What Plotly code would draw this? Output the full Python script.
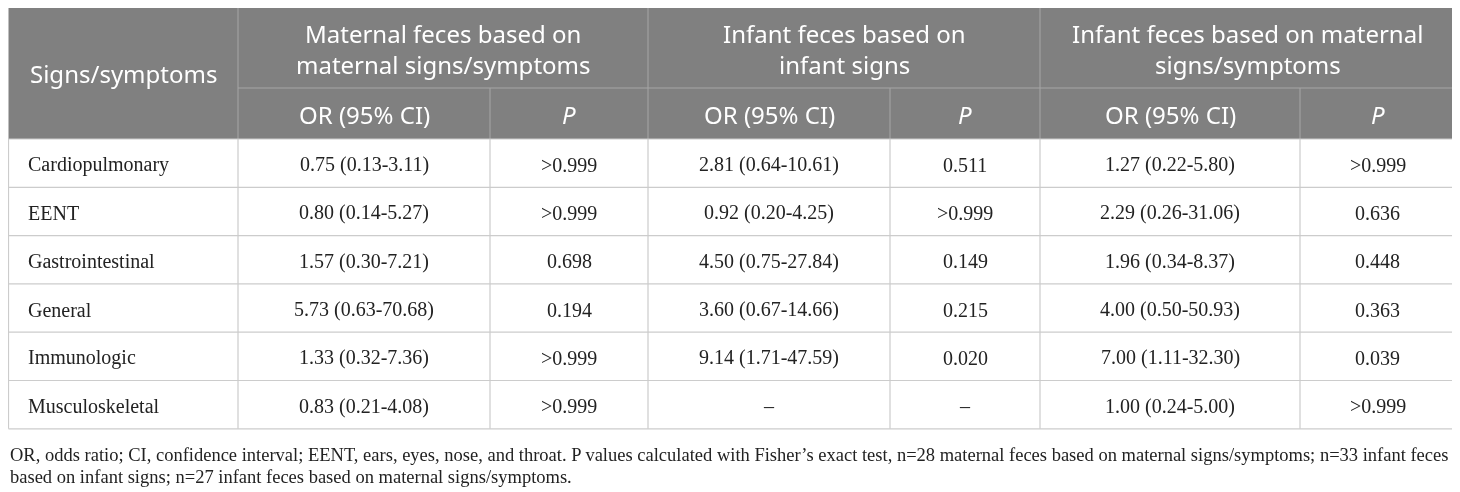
import plotly.graph_objects as go

# --- Data ---
symptoms = ["Cardiopulmonary", "EENT", "Gastrointestinal", "General", "Immunologic", "Musculoskeletal"]
maternal_or = ["0.75 (0.13-3.11)", "0.80 (0.14-5.27)", "1.57 (0.30-7.21)",
               "5.73 (0.63-70.68)", "1.33 (0.32-7.36)", "0.83 (0.21-4.08)"]
maternal_p = [">0.999", ">0.999", "0.698", "0.194", ">0.999", ">0.999"]
infant_or = ["2.81 (0.64-10.61)", "0.92 (0.20-4.25)", "4.50 (0.75-27.84)",
             "3.60 (0.67-14.66)", "9.14 (1.71-47.59)", "–"]
infant_p = ["0.511", ">0.999", "0.149", "0.215", "0.020", "–"]
inf_mat_or = ["1.27 (0.22-5.80)", "2.29 (0.26-31.06)", "1.96 (0.34-8.37)",
              "4.00 (0.50-50.93)", "7.00 (1.11-32.30)", "1.00 (0.24-5.00)"]
inf_mat_p = [">0.999", "0.636", "0.448", "0.363", "0.039", ">0.999"]

group_titles = [["Maternal feces based on", "maternal signs/symptoms"],
                ["Infant feces based on", "infant signs"],
                ["Infant feces based on maternal", "signs/symptoms"]]
sub_headers = ["OR (95% CI)", "<i>P</i>"]
first_header = "Signs/symptoms"
footnote = [
    "OR, odds ratio; CI, confidence interval; EENT, ears, eyes, nose, and throat. P values calculated with Fisher’s exact test, "
    "n=28 maternal feces based on maternal signs/symptoms; n=33 infant feces",
    "based on infant signs; n=27 infant feces based on maternal signs/symptoms.",
]

# --- Layout geometry (page-pixel axis units; page body has an 8px margin) ---
W, H = 1460, 492
OFF = 8
col_edges = [8.5, 238, 490, 648, 890, 1040, 1300, 1455]
y_top, y_h1, y_h2 = 7, 88, 139
row_h = 48.3
n_rows = len(symptoms)
y_bottom = y_h2 + n_rows * row_h

HEAD_BG = "#808080"
HEAD_LINE = "#a6a6a6"
GRID = "#cccccc"
HEAD_FONT = dict(family="Noto Sans", size=24, color="white")
BODY_FONT = dict(family="Liberation Serif, Times New Roman, serif", size=20, color="#222222")
NOTE_FONT = dict(family="Liberation Serif, Times New Roman, serif", size=18.5, color="#222222")

shapes = []
annotations = []

# header background
shapes.append(dict(type="rect", x0=col_edges[0], x1=col_edges[-1], y0=y_top, y1=y_h2,
                   fillcolor=HEAD_BG, line=dict(width=0), layer="below"))
# header lines
shapes.append(dict(type="line", x0=col_edges[1], x1=col_edges[-1], y0=y_h1, y1=y_h1,
                   line=dict(color=HEAD_LINE, width=1)))
for i in (1, 3, 5):
    shapes.append(dict(type="line", x0=col_edges[i], x1=col_edges[i], y0=y_top, y1=y_h2,
                       line=dict(color=HEAD_LINE, width=1)))
for i in (2, 4, 6):
    shapes.append(dict(type="line", x0=col_edges[i], x1=col_edges[i], y0=y_h1, y1=y_h2,
                       line=dict(color=HEAD_LINE, width=1)))

# body grid
for r in range(n_rows + 1):
    y = y_h2 + r * row_h
    shapes.append(dict(type="line", x0=col_edges[0], x1=col_edges[-1], y0=y, y1=y,
                       line=dict(color=GRID, width=1.2)))
for x in col_edges:
    shapes.append(dict(type="line", x0=x, x1=x, y0=y_h2, y1=y_bottom,
                       line=dict(color=GRID, width=1.2)))


def add_text(x, y, text, font, xanchor="center"):
    annotations.append(dict(x=x, y=y, xref="x", yref="y", text=text, showarrow=False,
                            xanchor=xanchor, yanchor="middle", font=font))


# header text
add_text((col_edges[0] + col_edges[1]) / 2, (y_top + y_h2) / 2, first_header, HEAD_FONT)
for g, lines in enumerate(group_titles):
    cx = (col_edges[1 + 2 * g] + col_edges[3 + 2 * g]) / 2
    add_text(cx, 33, lines[0], HEAD_FONT)
    add_text(cx, 64, lines[1], HEAD_FONT)
    for k, sub in enumerate(sub_headers):
        c = 1 + 2 * g + k
        add_text((col_edges[c] + col_edges[c + 1]) / 2, (y_h1 + y_h2) / 2 + 1, sub, HEAD_FONT)

# body text
columns = [maternal_or, maternal_p, infant_or, infant_p, inf_mat_or, inf_mat_p]
for r in range(n_rows):
    cy = y_h2 + (r + 0.5) * row_h + 1.5
    add_text(col_edges[0] + 17, cy, symptoms[r], BODY_FONT, xanchor="left")
    for c, col in enumerate(columns):
        add_text((col_edges[c + 1] + col_edges[c + 2]) / 2, cy, col[r], BODY_FONT)

# footnote
add_text(OFF, 455, footnote[0], NOTE_FONT, xanchor="left")
add_text(OFF, 477, footnote[1], NOTE_FONT, xanchor="left")

fig = go.Figure()
fig.add_trace(go.Scatter(x=[OFF, W], y=[OFF, H], mode="markers", opacity=0,
                         hoverinfo="skip", showlegend=False))
fig.update_layout(
    width=W, height=H,
    margin=dict(l=0, r=0, t=0, b=0),
    plot_bgcolor="white", paper_bgcolor="white",
    shapes=shapes, annotations=annotations,
    xaxis=dict(range=[OFF, W + OFF], visible=False, fixedrange=True),
    yaxis=dict(range=[H + OFF, OFF], visible=False, fixedrange=True),
)
fig.write_html("out.html")
